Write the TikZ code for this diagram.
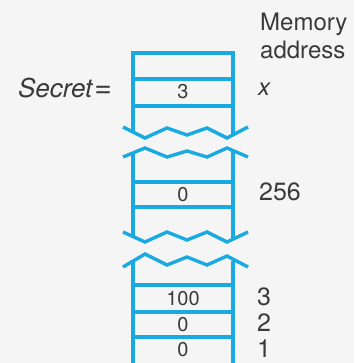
\documentclass[tikz,border=0pt]{standalone}
\usepackage{fontspec}
\setmainfont{TeX Gyre Heros}
\definecolor{bg}{HTML}{F5F5F5}
\definecolor{mblue}{HTML}{1AAAE2}
\definecolor{ink}{HTML}{3A3A3A}
\begin{document}
\begin{tikzpicture}[x=1pt,y=-1pt,
  wall/.style={draw=mblue,line width=3.4pt,line cap=butt,line join=miter},
  cell/.style={text=ink,font=\fontsize{20}{22}\selectfont,inner sep=0pt,anchor=center},
  addr/.style={text=ink,font=\fontsize{25}{28}\selectfont,inner sep=0pt,anchor=center},
  lbl/.style={text=ink,font=\fontsize{24}{28}\selectfont,inner sep=0pt}]
\fill[bg] (0,0) rectangle (354,363);
\useasboundingbox (0,0) rectangle (354,363);
% top block
\draw[wall] (133,132) -- (133,53) -- (233,53) -- (233,135);
\draw[wall] (133,79) -- (233,79);
\draw[wall] (133,106) -- (233,106);
\draw[wall] (123,127) -- (145,138) -- (167,128) -- (187,135) -- (207,128) -- (227,138) -- (248,127);
% middle block
\draw[wall] (123,157) -- (145,148) -- (167,157) -- (187,151) -- (207,157) -- (227,148) -- (248,157);
\draw[wall] (133,153) -- (133,237);
\draw[wall] (233,151) -- (233,238);
\draw[wall] (133,182) -- (233,182);
\draw[wall] (133,207) -- (233,207);
\draw[wall] (123,232) -- (145,242) -- (167,232) -- (187,240) -- (207,232) -- (227,242) -- (248,232);
% bottom block
\draw[wall] (123,267) -- (145,254) -- (167,265) -- (187,257) -- (207,265) -- (227,256) -- (248,267);
\draw[wall] (133,262) -- (133,366);
\draw[wall] (233,261) -- (233,366);
\draw[wall] (133,285) -- (233,285);
\draw[wall] (133,312) -- (233,312);
\draw[wall] (133,337) -- (233,337);
% texts
\node[lbl,anchor=west,align=left] (mem) at (260,36) {Memory\\address};
\node[lbl,font=\fontsize{26}{28}\selectfont\itshape] (sec) at (65,88) {Secret\kern2pt{\upshape\fontsize{30}{30}\selectfont=}};
\node[cell] (c3) at (183,92) {3};
\node[lbl,font=\fontsize{24}{28}\selectfont\itshape] (ax) at (264,89) {x};
\node[cell] (c0a) at (183,195) {0};
\node[addr] (a256) at (280,192) {256};
\node[cell] (c100) at (183,299) {100};
\node[cell] (c0b) at (183,325) {0};
\node[cell] (c0c) at (183,350) {0};
\node[addr] (a3) at (264,297) {3};
\node[addr] (a2) at (264,323) {2};
\node[addr] (a1) at (264,349) {1};
\end{tikzpicture}
\end{document}
